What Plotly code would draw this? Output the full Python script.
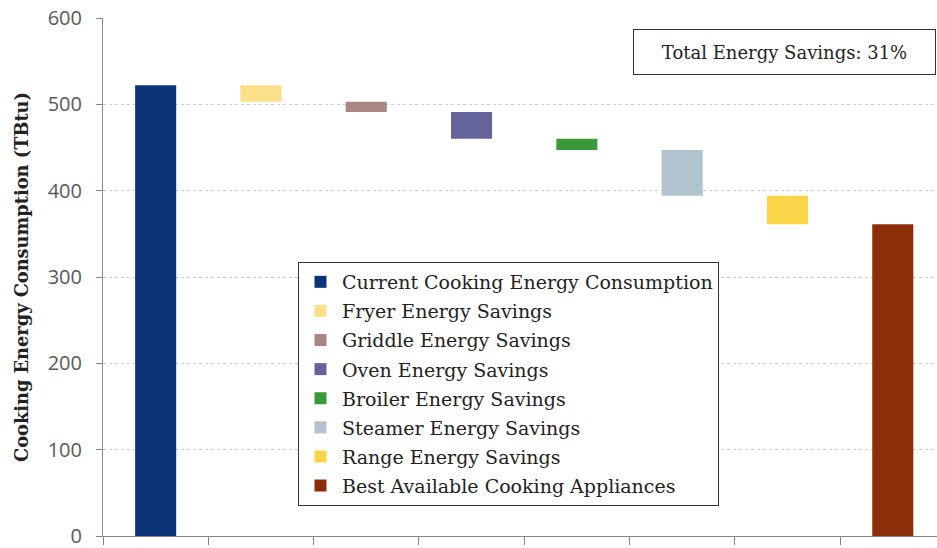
import plotly.graph_objects as go

# Stages of the cooking-energy waterfall (TBtu)
stages = [
    "Current Cooking Energy Consumption",
    "Fryer Energy Savings",
    "Griddle Energy Savings",
    "Oven Energy Savings",
    "Broiler Energy Savings",
    "Steamer Energy Savings",
    "Range Energy Savings",
    "Best Available Cooking Appliances",
]
current_consumption = 522
savings = [19, 12, 31, 13, 53, 33]  # fryer, griddle, oven, broiler, steamer, range
colors = ["#0B3478", "#FBE08A", "#A88682", "#65649A", "#3A9A3A", "#B0C3CF", "#FAD548", "#8B2E07"]
y_ticks = [0, 100, 200, 300, 400, 500, 600]

best_available = current_consumption - sum(savings)
total_pct = round(100 * sum(savings) / current_consumption)

# Build (height, base) for each bar: totals sit on zero, savings float
heights = [current_consumption]
bases = [0]
level = current_consumption
for s in savings:
    level -= s
    heights.append(s)
    bases.append(level)
heights.append(best_available)
bases.append(0)

serif = "DejaVu Serif, Liberation Serif, serif"

fig = go.Figure()
for i, name in enumerate(stages):
    fig.add_trace(go.Bar(
        x=[i], y=[heights[i]], base=[bases[i]],
        name=name, legendgroup=name,
        marker=dict(color=colors[i], line=dict(width=0)),
        width=0.39,
    ))

fig.update_layout(
    width=937, height=548,
    margin=dict(l=103, r=0, t=18, b=12),
    paper_bgcolor="white", plot_bgcolor="white",
    barmode="overlay",
    showlegend=True,
    legend=dict(
        x=0.2338, y=0.529, xanchor="left", yanchor="top",
        bordercolor="#333333", borderwidth=1, bgcolor="white",
        font=dict(family=serif, size=19, color="#222222"),
        tracegroupgap=1.4, itemwidth=33,
    ),
    xaxis=dict(
        range=[-0.5, 7.42],
        tickmode="array", tickvals=[i + 0.5 for i in range(-1, 8)],
        showticklabels=False, ticks="outside", ticklen=8,
        tickcolor="#868686", showline=True, linecolor="#868686",
        showgrid=False, zeroline=False,
    ),
    yaxis=dict(
        range=[0, 600], tickvals=y_ticks,
        ticks="outside", ticklen=6, tickcolor="#868686",
        showline=True, linecolor="#868686",
        showgrid=True, gridcolor="#CFCFCF", griddash="dot", gridwidth=1,
        zeroline=False,
        ticklabelstandoff=10, ticklabeloverflow="allow",
        tickfont=dict(family="Open Sans, DejaVu Sans, sans-serif", size=20, color="#595959"),
        title=dict(text="<b>Cooking Energy Consumption (TBtu)</b>",
                   font=dict(family=serif, size=17.8, color="#222222"), standoff=14),
    ),
    annotations=[dict(
        xref="paper", yref="paper", x=0.8171, y=0.9344,
        xanchor="center", yanchor="middle",
        text=f"Total Energy Savings: {total_pct}%",
        showarrow=False, font=dict(family=serif, size=18, color="#222222"),
        bordercolor="#333333", borderwidth=1, borderpad=0,
        bgcolor="white", width=301, height=44,
    )],
)

fig.write_html("out.html")
